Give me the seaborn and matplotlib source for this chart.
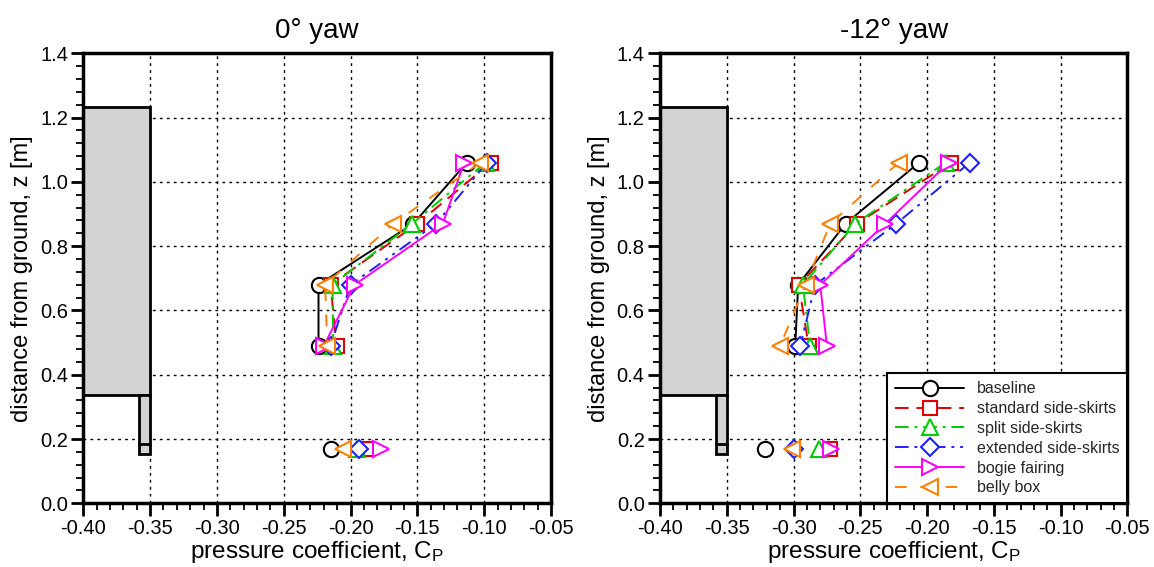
import matplotlib
matplotlib.use("Agg")
import matplotlib.pyplot as plt
from matplotlib.patches import Rectangle
from matplotlib.ticker import MultipleLocator, FormatStrFormatter
import numpy as np
import pandas as pd
import seaborn as sns

# ---- data -------------------------------------------------------------
panels = ["0\u00b0 yaw", "-12\u00b0 yaw"]
series = ["baseline", "standard side-skirts", "split side-skirts",
          "extended side-skirts", "bogie fairing", "belly box"]

# measurement heights along the side (connected), and the low probe row
z_side = [1.06, 0.87, 0.68, 0.49]
z_low = 0.17

# pressure coefficient at 0 deg yaw
cp_0_baseline = [-0.113, -0.153, -0.224, -0.224]
cp_0_standard = [-0.095, -0.150, -0.215, -0.2105]
cp_0_split = [-0.099, -0.154, -0.2135, -0.213]
cp_0_extended = [-0.098, -0.136, -0.200, -0.215]
cp_0_bogie = [-0.115, -0.131, -0.197, -0.220]
cp_0_belly = [-0.103, -0.168, -0.219, -0.2175]
cp_0_low = [-0.215, -0.188, -0.195, -0.194, -0.1775, -0.206]

# pressure coefficient at -12 deg yaw
cp_12_baseline = [-0.206, -0.261, -0.2965, -0.2987]
cp_12_standard = [-0.182, -0.2525, -0.296, -0.2887]
cp_12_split = [-0.186, -0.2537, -0.293, -0.2875]
cp_12_extended = [-0.168, -0.223, -0.2837, -0.295]
cp_12_bogie = [-0.1837, -0.2312, -0.280, -0.275]
cp_12_belly = [-0.2212, -0.2725, -0.291, -0.310]
cp_12_low = [-0.321, -0.273, -0.281, -0.2995, -0.272, -0.301]

side_data = [
    [cp_0_baseline, cp_0_standard, cp_0_split, cp_0_extended, cp_0_bogie, cp_0_belly],
    [cp_12_baseline, cp_12_standard, cp_12_split, cp_12_extended, cp_12_bogie, cp_12_belly],
]
low_data = [cp_0_low, cp_12_low]

# vehicle side outline: main body and bogie block (x0, x1, y0, y1)
body_box = [-0.40, -0.35, 0.336, 1.233]
bogie_box = [-0.358, -0.35, 0.155, 0.336]
bogie_split = 0.186

# ---- styling ----------------------------------------------------------
colors = ["black", "#e00000", "#00cc00", "#2020ff", "#ff00ff", "#ff8000"]
markers = ["o", "s", "^", "D", ">", "<"]
msizes = [11, 10, 11, 9.5, 11, 11]
linestyles = ["-", (0, (7, 4)), (0, (7, 3, 1.5, 3)), (0, (7, 3, 1.5, 3, 1.5, 3)),
              "-", (0, (6, 7))]

sns.set_theme(style="white")
plt.rcParams["font.family"] = ["Liberation Sans", "DejaVu Sans"]
plt.rcParams["mathtext.fontset"] = "custom"
plt.rcParams["mathtext.rm"] = "Liberation Sans"
plt.rcParams["mathtext.it"] = "Liberation Sans:italic"
plt.rcParams["axes.unicode_minus"] = False

fig = plt.figure(figsize=(11.54, 5.67), dpi=100)
ax_pos = [[0.0722, 0.1123, 0.4053, 0.7937], [0.5719, 0.1123, 0.4050, 0.7937]]

for p, title in enumerate(panels):
    ax = fig.add_axes(ax_pos[p])

    # vehicle outline
    x0, x1, y0, y1 = body_box
    ax.add_patch(Rectangle((x0, y0), x1 - x0, y1 - y0, facecolor="#d3d3d3",
                           edgecolor="black", lw=2, zorder=1))
    x0, x1, y0, y1 = bogie_box
    ax.add_patch(Rectangle((x0, y0), x1 - x0, y1 - y0, facecolor="#d3d3d3",
                           edgecolor="black", lw=2, zorder=1))
    ax.plot([x0, x1], [bogie_split, bogie_split], color="black", lw=2, zorder=1)

    for i, name in enumerate(series):
        df = pd.DataFrame({"cp": side_data[p][i], "z": z_side})
        sns.lineplot(data=df, x="cp", y="z", ax=ax, sort=False, estimator=None,
                     color=colors[i], linestyle=linestyles[i], lw=1.4,
                     marker=markers[i], markersize=msizes[i],
                     markerfacecolor="white", markeredgecolor=colors[i],
                     markeredgewidth=1.5, label=name, zorder=3 + i)
        dfl = pd.DataFrame({"cp": [low_data[p][i]], "z": [z_low]})
        sns.lineplot(data=dfl, x="cp", y="z", ax=ax, sort=False, estimator=None,
                     color=colors[i], linestyle="none",
                     marker=markers[i], markersize=msizes[i],
                     markerfacecolor="white", markeredgecolor=colors[i],
                     markeredgewidth=1.5, zorder=3 + i)

    ax.set_xlim(-0.40, -0.05)
    ax.set_ylim(0.0, 1.4)
    ax.xaxis.set_major_locator(MultipleLocator(0.05))
    ax.xaxis.set_minor_locator(MultipleLocator(0.01))
    ax.yaxis.set_major_locator(MultipleLocator(0.2))
    ax.yaxis.set_minor_locator(MultipleLocator(0.04))
    ax.xaxis.set_major_formatter(FormatStrFormatter("%.2f"))
    ax.yaxis.set_major_formatter(FormatStrFormatter("%.1f"))
    ax.tick_params(which="major", direction="out", length=9, width=2,
                   labelsize=14.5, color="black", labelcolor="black",
                   bottom=True, left=True, pad=2)
    ax.tick_params(which="minor", direction="out", length=5, width=1.3,
                   color="black", bottom=True, left=True)
    ax.grid(True, which="major", color="black", linestyle=(0, (2, 3)), lw=1)
    ax.set_axisbelow(True)
    for s in ax.spines.values():
        s.set_visible(True)
        s.set_color("black")
        s.set_linewidth(2.5)

    ax.set_title(title, fontsize=20, pad=11, color="black")
    ax.set_xlabel("pressure coefficient, C$_\\mathrm{P}$", fontsize=17.5,
                  color="black", labelpad=1)
    ax.set_ylabel("distance from ground, z [m]", fontsize=17, color="black",
                  labelpad=5)

    if p == 1:
        leg = ax.legend(loc="lower right", borderaxespad=0, fontsize=11.5,
                        handlelength=4.3, numpoints=1, fancybox=False,
                        framealpha=1, edgecolor="black", labelspacing=0.3,
                        borderpad=0.5, handletextpad=0.8)
        leg.get_frame().set_linewidth(1.5)
        leg.set_zorder(20)
    else:
        ax.legend().remove()

fig.savefig("out.png", dpi=100)
